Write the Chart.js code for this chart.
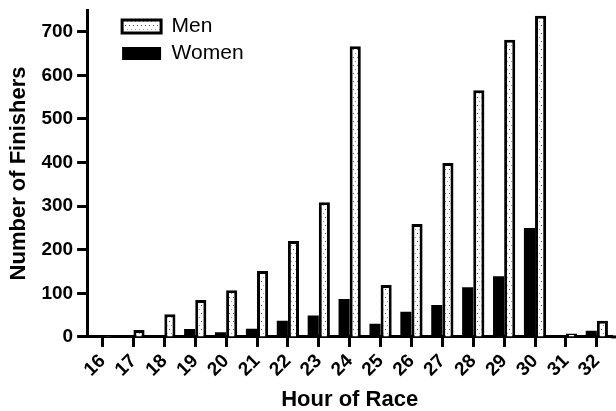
<!DOCTYPE html>
<html>
<head>
<meta charset="utf-8">
<script src="https://cdn.jsdelivr.net/npm/chart.js@4"></script>
<style>
  body { margin: 0; background: #fff; }
  #wrap { width: 616px; height: 411px; }
</style>
</head>
<body>
<div id="wrap"><canvas id="myChart"></canvas></div>
<script>
const hours = ['16', '17', '18', '19', '20', '21', '22', '23', '24', '25', '26', '27', '28', '29', '30', '31', '32']
const men = [2, 16, 52, 85, 107, 151, 220, 309, 667, 119, 259, 399, 566, 682, 737, 8, 37]
const women = [0, 0, 0, 18, 11, 19, 37, 49, 87, 30, 58, 73, 114, 139, 250, 4, 14]
const yTicks = [0, 100, 200, 300, 400, 500, 600, 700]

// dotted fill for the men bars
function dotPattern() {
    const c = document.createElement('canvas')
    c.width = 4
    c.height = 8
    const g = c.getContext('2d')
    g.fillStyle = '#fff'
    g.fillRect(0, 0, 4, 8)
    g.fillStyle = '#555'
    g.fillRect(1, 1, 1, 1)
    g.fillStyle = '#999'
    g.fillRect(3, 5, 1, 1)
    return g.createPattern(c, 'repeat')
}

// nudge the legend inside the plot
const legendShift = {
    id: 'legendShift',
    afterLayout(chart) {
        const lg = chart.legend
        lg.left += 29
        lg.right += 29
        lg.top += 10
        lg.bottom += 10
    }
}

// x axis line runs on to the right edge
const axisTail = {
    id: 'axisTail',
    afterDraw(chart) {
        const { ctx, chartArea } = chart
        const y = chart.scales.x.top
        ctx.save()
        ctx.strokeStyle = '#000'
        ctx.lineWidth = 3
        ctx.beginPath()
        ctx.moveTo(chartArea.right - 1, y)
        ctx.lineTo(chart.width, y)
        ctx.stroke()
        ctx.restore()
    }
}

Chart.defaults.font.family = '"Liberation Sans", Arial, sans-serif'
Chart.defaults.color = '#000'

const ctx = document.getElementById('myChart')

new Chart(ctx, {
    type: 'bar',
    data: {
        labels: hours,
        datasets: [{
            label: 'Women',
            data: women,
            backgroundColor: '#000',
            borderColor: '#000',
            borderWidth: 0,
            categoryPercentage: 0.72,
            barPercentage: 1.0
        }, {
            label: 'Men',
            data: men,
            backgroundColor: dotPattern(),
            borderColor: '#000',
            borderWidth: 3,
            categoryPercentage: 0.72,
            barPercentage: 1.0
        }]
    },
    options: {
        responsive: true,
        maintainAspectRatio: false,
        animation: false,
        layout: {
            padding: { top: 10, right: 2, left: 6, bottom: 0 }
        },
        scales: {
            x: {
                grid: { drawOnChartArea: false, offset: false, tickLength: 10, tickWidth: 3, tickColor: '#000' },
                border: { width: 3, color: '#000' },
                ticks: {
                    font: { size: 19, weight: 'bold' },
                    autoSkip: false,
                    minRotation: 45,
                    maxRotation: 45,
                    padding: 3
                },
                title: {
                    display: true,
                    text: 'Hour of Race',
                    font: { size: 22, weight: 'bold', lineHeight: 1 },
                    padding: { top: 5, bottom: 0 }
                }
            },
            y: {
                min: 0,
                max: 750,
                afterBuildTicks: axis => {
                    axis.ticks = yTicks.map(v => ({ value: v }))
                },
                afterFit: axis => {
                    axis.paddingTop = 0
                },
                grid: { drawOnChartArea: false, tickLength: 10, tickWidth: 3, tickColor: '#000' },
                border: { width: 3, color: '#000' },
                ticks: {
                    font: { size: 19, weight: 'bold' },
                    padding: 4
                },
                title: {
                    display: true,
                    text: 'Number of Finishers',
                    font: { size: 22, weight: 'bold' },
                    padding: { top: 0, bottom: 5 }
                }
            }
        },
        plugins: {
            legend: {
                position: 'chartArea',
                align: 'start',
                reverse: true,
                labels: {
                    boxWidth: 39,
                    boxHeight: 13,
                    padding: 6,
                    font: { size: 21 }
                }
            },
            tooltip: { enabled: false }
        }
    },
    plugins: [legendShift, axisTail]
});
</script>
</body>
</html>
